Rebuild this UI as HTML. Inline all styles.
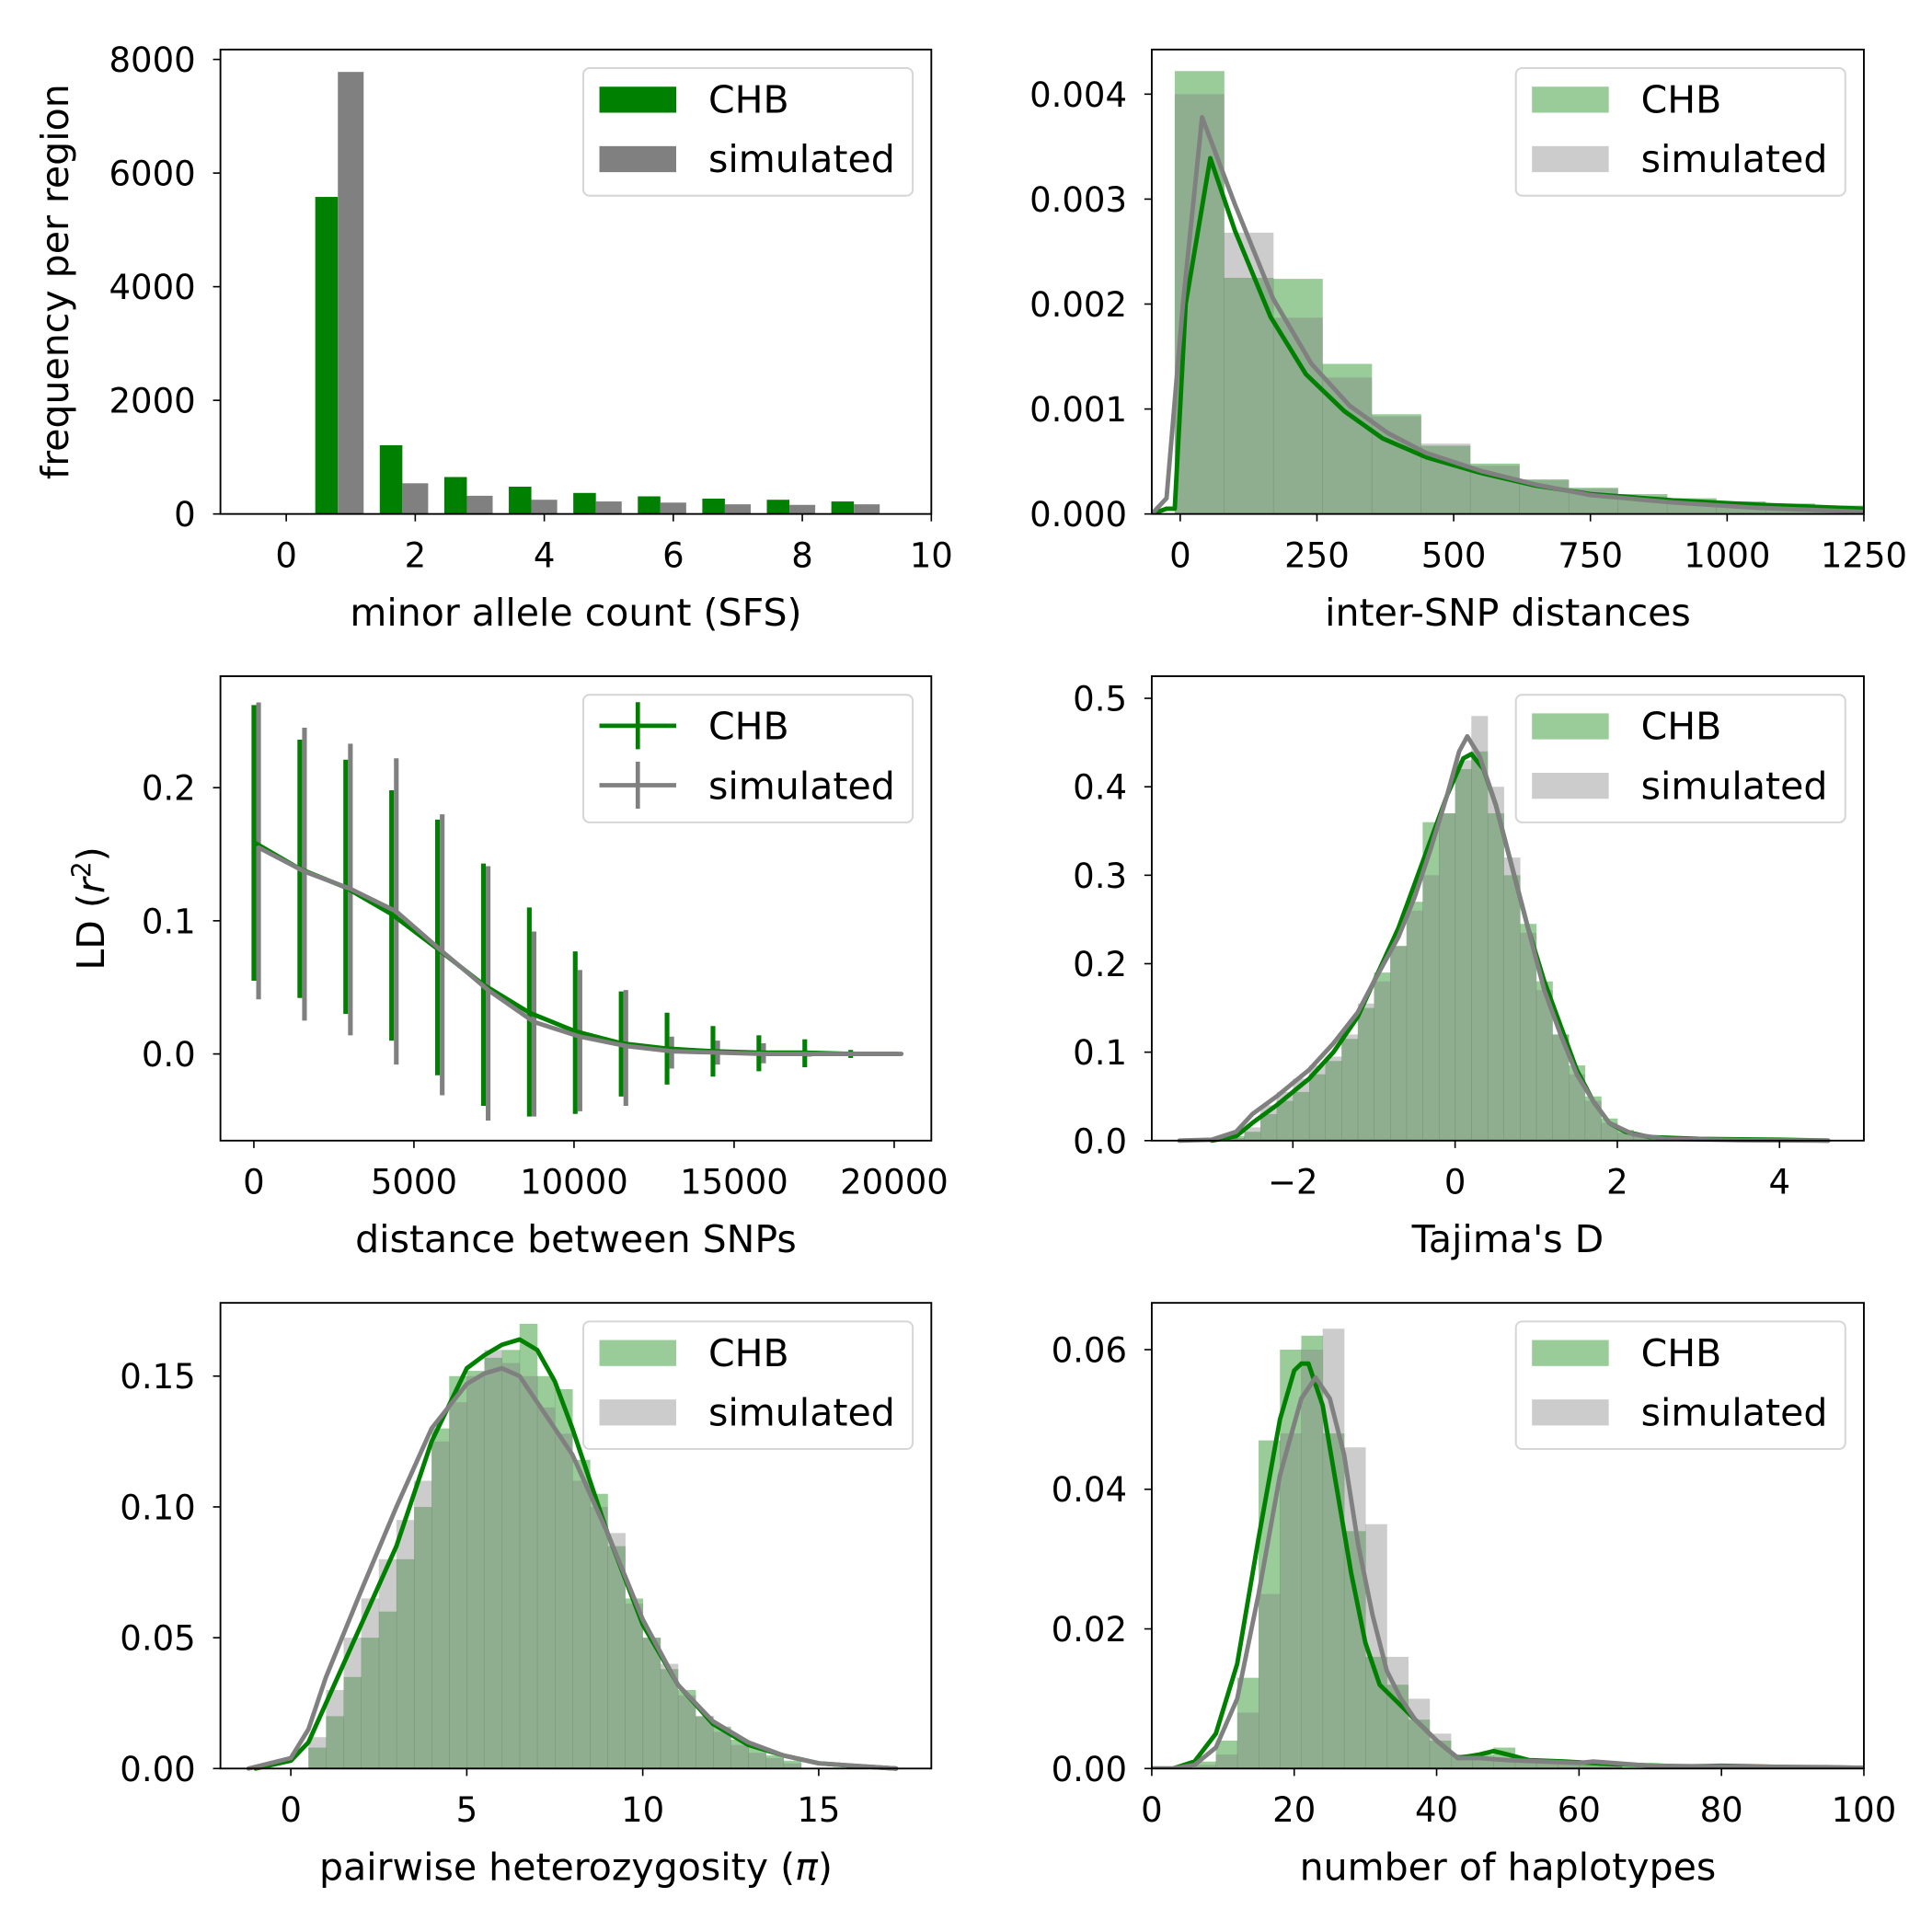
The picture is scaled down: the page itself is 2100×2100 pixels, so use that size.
<!DOCTYPE html>
<html><head><meta charset="utf-8">
<style>
html,body{margin:0;padding:0;background:#fff;}
svg{display:block;}
text{font-family:"DejaVu Sans","Liberation Sans",sans-serif;fill:#000;}
</style></head>
<body>
<svg id="fig" xmlns="http://www.w3.org/2000/svg" width="2100" height="2100" viewBox="0 0 1560 1560"></svg>
<script>
// ---------- Panel 1: SFS ----------
const sfsCats = [1,2,3,4,5,6,7,8,9];
const sfsCHB = [5580,1210,650,480,370,310,270,250,220];
const sfsSim = [7780,540,320,250,220,200,170,160,170];
// ---------- Panel 2: inter-SNP distances ----------
const isdBinStart = -10, isdBinWidth = 90;
const isdHistCHB = [0.00422,0.00225,0.00224,0.00143,0.00095,0.00065,0.00048,0.00033,0.00025,0.00019,0.00015,0.00012,0.0001,0.00008];
const isdHistSim = [0.00400,0.00268,0.00187,0.00130,0.00093,0.00067,0.00046,0.00032,0.00024,0.00017,0.00012,0.0001,0.00008,0.00006];
const isdKdeCHBx = [-52,-25,-10,10,55,100,165,230,300,370,450,550,650,750,900,1050,1250];
const isdKdeCHBy = [0,0.00005,0.00005,0.002,0.00339,0.0027,0.00188,0.00133,0.00098,0.00072,0.00054,0.00039,0.00027,0.00019,0.00013,0.00009,0.00005];
const isdKdeSimx = [-52,-25,5,40,100,170,240,310,380,450,550,650,750,900,1050,1250];
const isdKdeSimy = [0,0.00015,0.002,0.00378,0.00295,0.00205,0.00143,0.00103,0.00077,0.00058,0.00041,0.00028,0.00018,0.00011,0.00006,0.00002];
// ---------- Panel 3: LD ----------
const ldXCHB = [0,1434,2868,4302,5736,7170,8604,10038,11472,12906,14340,15774,17208,18642,20076];
const ldMeanCHB = [0.159,0.139,0.125,0.105,0.079,0.052,0.031,0.017,0.008,0.004,0.002,0.001,0.001,0.0,0.0];
const ldTopCHB = [0.262,0.236,0.221,0.198,0.176,0.143,0.110,0.077,0.047,0.031,0.021,0.014,0.011,0.003,0.001];
const ldBotCHB = [0.055,0.042,0.030,0.010,-0.016,-0.039,-0.047,-0.045,-0.032,-0.023,-0.017,-0.013,-0.010,-0.003,-0.001];
const ldXSim = [147,1581,3015,4449,5883,7317,8751,10185,11619,13053,14487,15921,17355,18789,20223];
const ldMeanSim = [0.155,0.137,0.124,0.107,0.077,0.048,0.024,0.013,0.006,0.002,0.001,0.0,0.0,0.0,0.0];
const ldTopSim = [0.264,0.245,0.233,0.222,0.180,0.141,0.092,0.063,0.048,0.013,0.010,0.008,0.002,0.001,0.0];
const ldBotSim = [0.041,0.025,0.014,-0.008,-0.031,-0.050,-0.047,-0.043,-0.039,-0.011,-0.008,-0.007,-0.002,-0.001,0.0];
// ---------- Panel 4: Tajima's D ----------
const tdBinStart = -2.8, tdBinWidth = 0.2;
const tdHistCHB = [0.005,0.01,0.03,0.045,0.055,0.075,0.09,0.115,0.15,0.19,0.22,0.27,0.36,0.37,0.42,0.44,0.37,0.30,0.245,0.18,0.12,0.085,0.05,0.025,0.012,0.006,0.002];
const tdHistSim = [0.003,0.015,0.04,0.055,0.07,0.085,0.095,0.12,0.155,0.18,0.22,0.26,0.30,0.37,0.43,0.48,0.40,0.32,0.235,0.17,0.12,0.075,0.045,0.02,0.009,0.004,0.001];
const tdKdeCHBx = [-3.0,-2.7,-2.5,-2.2,-2.0,-1.8,-1.5,-1.2,-1.0,-0.7,-0.5,-0.3,-0.1,0.1,0.2,0.35,0.5,0.7,0.9,1.1,1.3,1.5,1.7,1.9,2.1,2.4,3.0,4.0,4.6];
const tdKdeCHBy = [0,0.005,0.02,0.04,0.055,0.07,0.1,0.14,0.18,0.24,0.29,0.34,0.39,0.432,0.437,0.42,0.38,0.31,0.24,0.18,0.13,0.08,0.045,0.02,0.01,0.004,0.002,0.001,0];
const tdKdeSimx = [-3.4,-3.0,-2.7,-2.5,-2.2,-2.0,-1.8,-1.5,-1.2,-1.0,-0.7,-0.5,-0.3,-0.1,0.05,0.15,0.3,0.5,0.7,0.9,1.1,1.3,1.5,1.7,1.9,2.2,2.6,3.5,4.6];
const tdKdeSimy = [0,0.001,0.01,0.03,0.05,0.065,0.08,0.11,0.145,0.18,0.23,0.275,0.33,0.39,0.44,0.457,0.435,0.38,0.31,0.24,0.17,0.12,0.075,0.045,0.02,0.007,0.002,0.0005,0];
// ---------- Panel 5: pairwise heterozygosity ----------
const piBinStart = 0.5, piBinWidth = 0.5;
const piHistCHB = [0.008,0.02,0.035,0.05,0.06,0.08,0.1,0.13,0.15,0.152,0.157,0.16,0.17,0.15,0.145,0.118,0.105,0.085,0.065,0.05,0.038,0.03,0.02,0.016,0.011,0.008,0.005,0.003];
const piHistSim = [0.012,0.03,0.05,0.065,0.08,0.095,0.11,0.125,0.14,0.15,0.16,0.155,0.15,0.138,0.128,0.11,0.1,0.09,0.063,0.05,0.04,0.028,0.02,0.014,0.009,0.006,0.004,0.002];
const piKdeCHBx = [-1,0,0.5,1,2,3,4,5,5.5,6,6.5,7,7.5,8,9,10,11,12,13,14,15,16,17.2];
const piKdeCHBy = [0,0.003,0.01,0.025,0.055,0.085,0.125,0.153,0.158,0.162,0.164,0.16,0.148,0.13,0.09,0.055,0.032,0.017,0.009,0.005,0.002,0.001,0];
const piKdeSimx = [-1.2,0,0.5,1,2,3,4,5,5.5,6,6.5,7,8,9,10,11,12,13,14,15,17.2];
const piKdeSimy = [0,0.004,0.015,0.035,0.068,0.1,0.13,0.147,0.151,0.153,0.15,0.14,0.12,0.09,0.057,0.032,0.018,0.01,0.005,0.002,0];
// ---------- Panel 6: number of haplotypes ----------
const nhBinStart = 6, nhBinWidth = 3;
const nhHistCHB = [0.001,0.004,0.013,0.047,0.06,0.062,0.048,0.034,0.016,0.012,0.007,0.004,0.002,0.002,0.003,0.0015,0.001,0.001,0.0008,0.0006];
const nhHistSim = [0.0005,0.002,0.008,0.025,0.048,0.06,0.063,0.046,0.035,0.016,0.01,0.005,0.002,0.0015,0.0015,0.001,0.001,0.0008,0.001,0.0005];
const nhKdeCHBx = [0,3,6,9,12,15,18,20,21,22,24,26,28,30,32,34,36,38,40,43,46,48,50,53,58,65,75,80,90,100];
const nhKdeCHBy = [0,0,0.001,0.005,0.015,0.033,0.05,0.057,0.058,0.058,0.052,0.04,0.028,0.018,0.012,0.01,0.008,0.006,0.004,0.0015,0.002,0.0025,0.002,0.0012,0.001,0.0006,0.0003,0.0004,0.0002,0.0001];
const nhKdeSimx = [0,3,6,9,12,15,18,21,23,25,27,29,31,33,35,37,40,43,46,50,60,62,70,80,95,100];
const nhKdeSimy = [0,0,0.0005,0.003,0.01,0.025,0.042,0.053,0.056,0.053,0.045,0.032,0.022,0.014,0.01,0.007,0.004,0.0015,0.0015,0.0012,0.0008,0.001,0.0004,0.0003,0.0002,0.0001];

const NS = "http://www.w3.org/2000/svg";
const fig = document.getElementById('fig');
const GREEN = '#008000', GRAY = '#808080';
const LGREEN = '#99cc99', LGRAY = '#cccccc';
const TICKFS = 27.5, LABFS = 30.5;
function mk(tag, attrs, parent){
  const e = document.createElementNS(NS, tag);
  for (const k in attrs) e.setAttribute(k, attrs[k]);
  (parent||fig).appendChild(e);
  return e;
}
function makeAxes(name, px0, px1, py0, py1, xmin, xmax, ymin, ymax){
  const g = mk('g', {});
  
  
  return {g, px0, px1, py0, py1,
    sx: v => px0 + (v - xmin) / (xmax - xmin) * (px1 - px0),
    sy: v => py1 - (v - ymin) / (ymax - ymin) * (py1 - py0)};
}
function frame(ax, xt, xl, yt, yl, xlabel, ylabel, ylabX){
  const g = ax.g;
  const fr = mk('rect', {x:ax.px0, y:ax.py0, width:ax.px1-ax.px0, height:ax.py1-ax.py0, fill:'none', stroke:'#000', 'stroke-width':1.4}, g);
  
  
  xt.forEach((v,i)=>{
    const x = ax.sx(v);
    mk('line', {x1:x, x2:x, y1:ax.py1, y2:ax.py1+6, stroke:'#000', 'stroke-width':1.2}, g);
    const t = mk('text', {x:x, y:ax.py1+43, 'font-size':TICKFS, 'text-anchor':'middle'}, g);
    t.textContent = xl[i];
    
    
  });
  yt.forEach((v,i)=>{
    const y = ax.sy(v);
    mk('line', {x1:ax.px0-6, x2:ax.px0, y1:y, y2:y, stroke:'#000', 'stroke-width':1.2}, g);
    const t = mk('text', {x:ax.px0-20, y:y+10, 'font-size':TICKFS, 'text-anchor':'end'}, g);
    t.textContent = yl[i];
    
    
  });
  const xlab = mk('text', {x:(ax.px0+ax.px1)/2, y:ax.py1+90, 'font-size':LABFS, 'text-anchor':'middle'}, g);
  xlab.innerHTML = xlabel;
  
  
  if (ylabel){
    const cy = (ax.py0+ax.py1)/2;
    const ylab = mk('text', {x:ylabX, y:cy, 'font-size':LABFS, 'text-anchor':'middle', transform:`rotate(-90 ${ylabX} ${cy})`}, g);
    ylab.innerHTML = ylabel;
    
    
  }
}
function legend(ax, kind, c1, c2){
  const g = mk('g', {}, ax.g);
  
  
  const x = ax.px1 - 281, y = ax.py0 + 15;
  mk('rect', {x:x, y:y, width:266, height:103, rx:5, fill:'#fff', 'fill-opacity':0.8, stroke:'#d6d6d6', 'stroke-width':1.5}, g);
  [[c1,'CHB'],[c2,'simulated']].forEach((it,i)=>{
    const cy = y + 25 + i*48;
    const eg = mk('g', {}, g);
    
    
    if (kind === 'patch'){
      mk('rect', {x:x+13, y:cy-10, width:62, height:21, fill:it[0]}, eg);
    } else if (kind === 'err'){
      mk('line', {x1:x+13, x2:x+75, y1:cy, y2:cy, stroke:it[0], 'stroke-width':3.5}, eg);
      mk('line', {x1:x+44, x2:x+44, y1:cy-19, y2:cy+19, stroke:it[0], 'stroke-width':3.5}, eg);
    }
    const t = mk('text', {x:x+101, y:cy+11, 'font-size':LABFS}, eg);
    t.textContent = it[1];
  });
}
function hist(ax, start, width, vals, color, name){
  const g = mk('g', {}, ax.g);
  
  
  vals.forEach((v,i)=>{
    const a = start + i*width, b = a + width;
    const r = mk('rect', {x:ax.sx(a), y:ax.sy(v), width:ax.sx(b)-ax.sx(a)+0.3, height:ax.sy(0)-ax.sy(v), fill:color, 'fill-opacity':0.4}, g);
    
    
  });
}
function line(ax, xs, ys, color, name, w){
  const d = xs.map((x,i)=>(i?'L':'M')+ax.sx(x).toFixed(2)+','+ax.sy(ys[i]).toFixed(2)).join(' ');
  const p = mk('path', {d:d, fill:'none', stroke:color, 'stroke-width':w||3.6, 'stroke-linejoin':'round', 'stroke-linecap':'round'}, ax.g);
  
  
}
function clip(ax, id){
  const cp = mk('clipPath', {id:id});
  mk('rect', {x:ax.px0, y:ax.py0, width:ax.px1-ax.px0, height:ax.py1-ax.py0}, cp);
  const inner = mk('g', {'clip-path':`url(#${id})`}, ax.g);
  return inner;
}
const range = (a,b,s) => { const r=[]; for(let v=a; v<=b+1e-9; v+=s) r.push(+v.toFixed(6)); return r; };

// ----- Panel 1 -----
(function(){
  const ax = makeAxes('sfs-panel', 178, 752, 40, 415, -1.02, 10, 0, 8174);
  const g = mk('g', {}, ax.g);
  sfsCats.forEach((c,i)=>{
    const r1 = mk('rect', {x:ax.sx(c-0.55), y:ax.sy(sfsCHB[i]), width:ax.sx(c-0.2)-ax.sx(c-0.55), height:ax.sy(0)-ax.sy(sfsCHB[i]), fill:GREEN}, g);
    
    
    const r2 = mk('rect', {x:ax.sx(c-0.2), y:ax.sy(sfsSim[i]), width:ax.sx(c+0.2)-ax.sx(c-0.2), height:ax.sy(0)-ax.sy(sfsSim[i]), fill:GRAY}, g);
    
    
  });
  frame(ax, range(0,10,2), ['0','2','4','6','8','10'], range(0,8000,2000), ['0','2000','4000','6000','8000'], 'minor allele count (SFS)', 'frequency per region', 55);
  legend(ax, 'patch', GREEN, GRAY);
})();
// ----- Panel 2 -----
(function(){
  const ax = makeAxes('inter-snp-panel', 930, 1505, 40, 415, -52, 1250, 0, 0.004425);
  const inner = clip(ax, 'c2');
  const tmp = {g:inner, sx:ax.sx, sy:ax.sy};
  hist(tmp, isdBinStart, isdBinWidth, isdHistCHB, GREEN, 'hist-chb');
  hist(tmp, isdBinStart, isdBinWidth, isdHistSim, GRAY, 'hist-simulated');
  line(tmp, isdKdeCHBx, isdKdeCHBy, GREEN, 'kde-chb');
  line(tmp, isdKdeSimx, isdKdeSimy, GRAY, 'kde-simulated');
  frame(ax, range(0,1250,250), ['0','250','500','750','1000','1250'], range(0,0.004,0.001), ['0.000','0.001','0.002','0.003','0.004'], 'inter-SNP distances', null, 0);
  legend(ax, 'patch', LGREEN, LGRAY);
})();
// ----- Panel 3 -----
(function(){
  const ax = makeAxes('ld-panel', 178, 752, 546, 921, -1044, 21160, -0.0651, 0.2837);
  [[ldXCHB,ldTopCHB,ldBotCHB,GREEN,'errbar-chb'],[ldXSim,ldTopSim,ldBotSim,GRAY,'errbar-simulated']].forEach(s=>{
    s[0].forEach((x,i)=>{
      const l = mk('line', {x1:ax.sx(x), x2:ax.sx(x), y1:ax.sy(s[1][i]), y2:ax.sy(s[2][i]), stroke:s[3], 'stroke-width':3.8}, ax.g);
      
      
    });
  });
  line(ax, ldXCHB, ldMeanCHB, GREEN, 'ld-line-chb');
  line(ax, ldXSim, ldMeanSim, GRAY, 'ld-line-simulated');
  frame(ax, range(0,20000,5000), ['0','5000','10000','15000','20000'], [0,0.1,0.2], ['0.0','0.1','0.2'], 'distance between SNPs', 'LD (<tspan font-style="italic">r</tspan><tspan dy="-11" font-size="21">2</tspan><tspan dy="11">)</tspan>', 84);
  legend(ax, 'err', GREEN, GRAY);
})();
// ----- Panel 4 -----
(function(){
  const ax = makeAxes('tajima-panel', 930, 1505, 546, 921, -3.74, 5.04, 0, 0.525);
  const tmp = {g:ax.g, sx:ax.sx, sy:ax.sy};
  hist(tmp, tdBinStart, tdBinWidth, tdHistCHB, GREEN, 'hist-chb');
  hist(tmp, tdBinStart, tdBinWidth, tdHistSim, GRAY, 'hist-simulated');
  line(tmp, tdKdeCHBx, tdKdeCHBy, GREEN, 'kde-chb');
  line(tmp, tdKdeSimx, tdKdeSimy, GRAY, 'kde-simulated');
  frame(ax, [-2,0,2,4], ['\u22122','0','2','4'], range(0,0.5,0.1), ['0.0','0.1','0.2','0.3','0.4','0.5'], "Tajima's D", null, 0);
  legend(ax, 'patch', LGREEN, LGRAY);
})();
// ----- Panel 5 -----
(function(){
  const ax = makeAxes('pi-panel', 178, 752, 1052, 1428, -2.0, 18.2, 0, 0.178);
  const tmp = {g:ax.g, sx:ax.sx, sy:ax.sy};
  hist(tmp, piBinStart, piBinWidth, piHistCHB, GREEN, 'hist-chb');
  hist(tmp, piBinStart, piBinWidth, piHistSim, GRAY, 'hist-simulated');
  line(tmp, piKdeCHBx, piKdeCHBy, GREEN, 'kde-chb');
  line(tmp, piKdeSimx, piKdeSimy, GRAY, 'kde-simulated');
  frame(ax, [0,5,10,15], ['0','5','10','15'], range(0,0.15,0.05), ['0.00','0.05','0.10','0.15'], 'pairwise heterozygosity (<tspan font-style="italic">\u03c0</tspan>)', null, 0);
  legend(ax, 'patch', LGREEN, LGRAY);
})();
// ----- Panel 6 -----
(function(){
  const ax = makeAxes('haplotypes-panel', 930, 1505, 1052, 1428, 0, 100, 0, 0.0667);
  const inner = clip(ax, 'c6');
  const tmp = {g:inner, sx:ax.sx, sy:ax.sy};
  hist(tmp, nhBinStart, nhBinWidth, nhHistCHB, GREEN, 'hist-chb');
  hist(tmp, nhBinStart, nhBinWidth, nhHistSim, GRAY, 'hist-simulated');
  line(tmp, nhKdeCHBx, nhKdeCHBy, GREEN, 'kde-chb');
  line(tmp, nhKdeSimx, nhKdeSimy, GRAY, 'kde-simulated');
  frame(ax, range(0,100,20), ['0','20','40','60','80','100'], range(0,0.06,0.02), ['0.00','0.02','0.04','0.06'], 'number of haplotypes', null, 0);
  legend(ax, 'patch', LGREEN, LGRAY);
})();
</script>
</body></html>
